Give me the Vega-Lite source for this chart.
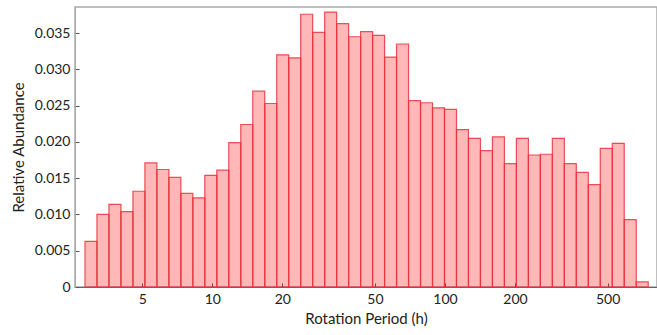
{
  "$schema": "https://vega.github.io/schema/vega-lite/v6.json",
  "width": 582,
  "height": 280,
  "autosize": {"type": "none"},
  "padding": {"left": 75, "top": 7, "right": 0, "bottom": 48},
  "background": "white",
  "config": {
    "view": {"stroke": "#aaaaaa", "strokeWidth": 1.5},
    "font": "Lato",
    "axis": {
      "grid": false,
      "labelFont": "Lato",
      "titleFont": "Lato",
      "labelFontSize": 14,
      "titleFontSize": 15,
      "labelColor": "#222",
      "titleColor": "#222",
      "titleFontWeight": "normal",
      "tickColor": "#555",
      "domainColor": "#666",
      "tickSize": -4
    }
  },
  "data": {
    "values": [
      {"lo": 2.837, "hi": 3.194, "v": 0.0063},
      {"lo": 3.194, "hi": 3.596, "v": 0.0100},
      {"lo": 3.596, "hi": 4.049, "v": 0.0114},
      {"lo": 4.049, "hi": 4.559, "v": 0.0104},
      {"lo": 4.559, "hi": 5.133, "v": 0.0132},
      {"lo": 5.133, "hi": 5.779, "v": 0.0171},
      {"lo": 5.779, "hi": 6.507, "v": 0.0162},
      {"lo": 6.507, "hi": 7.326, "v": 0.0151},
      {"lo": 7.326, "hi": 8.248, "v": 0.0129},
      {"lo": 8.248, "hi": 9.287, "v": 0.0123},
      {"lo": 9.287, "hi": 10.456, "v": 0.0154},
      {"lo": 10.456, "hi": 11.772, "v": 0.0161},
      {"lo": 11.772, "hi": 13.255, "v": 0.0199},
      {"lo": 13.255, "hi": 14.923, "v": 0.0224},
      {"lo": 14.923, "hi": 16.802, "v": 0.0270},
      {"lo": 16.802, "hi": 18.918, "v": 0.0253},
      {"lo": 18.918, "hi": 21.3, "v": 0.0320},
      {"lo": 21.3, "hi": 23.981, "v": 0.0316},
      {"lo": 23.981, "hi": 27.0, "v": 0.0376},
      {"lo": 27.0, "hi": 30.4, "v": 0.0351},
      {"lo": 30.4, "hi": 34.227, "v": 0.0379},
      {"lo": 34.227, "hi": 38.537, "v": 0.0363},
      {"lo": 38.537, "hi": 43.388, "v": 0.0345},
      {"lo": 43.388, "hi": 48.851, "v": 0.0352},
      {"lo": 48.851, "hi": 55.001, "v": 0.0347},
      {"lo": 55.001, "hi": 61.925, "v": 0.0317},
      {"lo": 61.925, "hi": 69.722, "v": 0.0335},
      {"lo": 69.722, "hi": 78.5, "v": 0.0257},
      {"lo": 78.5, "hi": 88.383, "v": 0.0254},
      {"lo": 88.383, "hi": 99.51, "v": 0.0247},
      {"lo": 99.51, "hi": 112.04, "v": 0.0245},
      {"lo": 112.04, "hi": 126.14, "v": 0.0217},
      {"lo": 126.14, "hi": 142.02, "v": 0.0205},
      {"lo": 142.02, "hi": 159.9, "v": 0.0188},
      {"lo": 159.9, "hi": 180.03, "v": 0.0207},
      {"lo": 180.03, "hi": 202.7, "v": 0.0170},
      {"lo": 202.7, "hi": 228.22, "v": 0.0205},
      {"lo": 228.22, "hi": 256.95, "v": 0.0182},
      {"lo": 256.95, "hi": 289.3, "v": 0.0183},
      {"lo": 289.3, "hi": 325.72, "v": 0.0205},
      {"lo": 325.72, "hi": 366.73, "v": 0.0170},
      {"lo": 366.73, "hi": 412.9, "v": 0.0158},
      {"lo": 412.9, "hi": 464.89, "v": 0.0141},
      {"lo": 464.89, "hi": 523.42, "v": 0.0191},
      {"lo": 523.42, "hi": 589.31, "v": 0.0198},
      {"lo": 589.31, "hi": 663.51, "v": 0.0093},
      {"lo": 663.51, "hi": 747.05, "v": 0.0007}
    ]
  },
  "mark": {
    "type": "rect",
    "fill": "#ff0000",
    "fillOpacity": 0.28,
    "stroke": "#e8333d",
    "strokeOpacity": 0.85,
    "strokeWidth": 1.2
  },
  "encoding": {
    "x": {
      "field": "lo",
      "type": "quantitative",
      "scale": {"type": "log", "domain": [2.57, 815], "nice": false},
      "axis": {
        "title": "Rotation Period (h)",
        "values": [5, 10, 20, 50, 100, 200, 500],
        "format": "d",
        "labelPadding": 9,
        "titlePadding": 5
      }
    },
    "x2": {"field": "hi"},
    "y": {
      "field": "v",
      "type": "quantitative",
      "scale": {"domain": [0, 0.0386], "nice": false, "zero": true},
      "axis": {
        "title": "Relative Abundance",
        "values": [0, 0.005, 0.01, 0.015, 0.02, 0.025, 0.03, 0.035],
        "labelExpr": "datum.value == 0 ? '0' : format(datum.value, '.3f')",
        "labelPadding": 9,
        "titlePadding": 8,
        "domainColor": "#aaaaaa"
      }
    },
    "y2": {"datum": 0}
  }
}
